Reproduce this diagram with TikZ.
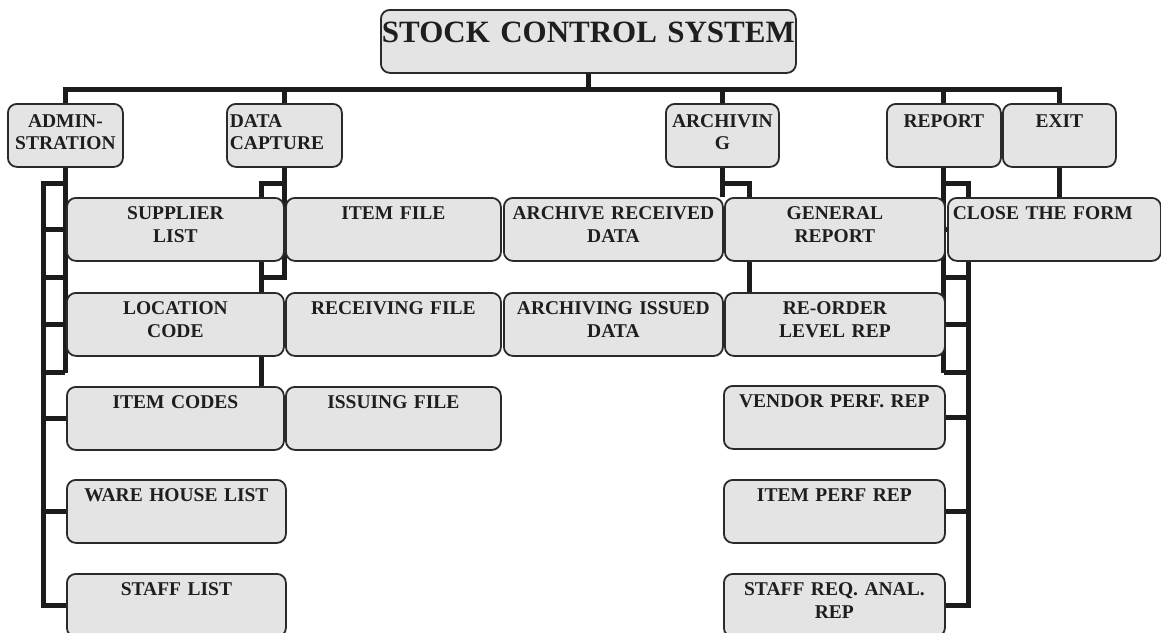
\documentclass[tikz,border=0pt]{standalone}
\usepackage{fontspec}
\setmainfont{Liberation Serif}
\usetikzlibrary{calc}
\definecolor{boxfill}{HTML}{E4E4E4}
\definecolor{boxline}{HTML}{2A2A2A}
\definecolor{lineclr}{HTML}{1C1C1C}
\definecolor{txt}{HTML}{1E1E1E}
\pgfdeclarelayer{bg}
\pgfsetlayers{bg,main}
\begin{document}
\begin{tikzpicture}[x=1pt,y=-1pt,
  box/.style={draw=boxline, fill=boxfill, line width=1.8pt, rounded corners=9pt,
    inner xsep=3pt, inner ysep=0pt, anchor=north west, align=center, text=txt},
  rowbox/.style={box, text height=22pt, text depth=41pt,
    font=\bfseries\fontsize{19.5pt}{23pt}\selectfont},
  topbox/.style={box, text height=24pt, text depth=39pt,
    font=\bfseries\fontsize{19.5pt}{22pt}\selectfont},
  rootbox/.style={box, inner xsep=0pt, text height=33pt, text depth=30pt,
    font=\bfseries\fontsize{31pt}{36pt}\selectfont},
  conn/.style={draw=lineclr, line width=5pt}]
\useasboundingbox (0,0) rectangle (1161,632);

% root
\node[rootbox, text width=415pt] (root) at (380,9) {STOCK CONTROL SYSTEM};

% level 1
\node[topbox, text width=109pt] (adm) at (7,103) {ADMIN-\\STRATION};
\node[topbox, text width=109pt, align=left] (dc) at (226,103) {DATA\\CAPTURE};
\node[topbox, text width=107pt] (arc) at (665,103) {ARCHIVIN\\G};
\node[topbox, text width=108pt] (rep) at (886,103) {REPORT};
\node[topbox, text width=107pt] (ext) at (1002,103) {EXIT};

% column A (administration)
\node[rowbox, text width=211pt] (a1) at (66,197) {SUPPLIER\\LIST};
\node[rowbox, text width=211pt] (a2) at (66,292) {LOCATION\\CODE};
\node[rowbox, text width=211pt] (a3) at (66,386) {ITEM CODES};
\node[rowbox, text width=213pt] (a4) at (66,479) {WARE HOUSE LIST};
\node[rowbox, text width=213pt] (a5) at (66,573) {STAFF LIST};

% column B (data capture)
\node[rowbox, text width=209pt] (d1) at (285,197) {ITEM FILE};
\node[rowbox, text width=209pt] (d2) at (285,292) {RECEIVING FILE};
\node[rowbox, text width=209pt] (d3) at (285,386) {ISSUING FILE};

% column C (archiving)
\node[rowbox, text width=213pt] (c1) at (503,197) {ARCHIVE RECEIVED\\DATA};
\node[rowbox, text width=213pt] (c2) at (503,292) {ARCHIVING ISSUED\\DATA};

% column D (report)
\node[rowbox, text width=214pt] (r1) at (724,197) {GENERAL\\REPORT};
\node[rowbox, text width=214pt] (r2) at (724,292) {RE-ORDER\\LEVEL REP};
\node[rowbox, text width=215pt] (r3) at (723,385) {VENDOR PERF. REP};
\node[rowbox, text width=215pt] (r4) at (723,479) {ITEM PERF REP};
\node[rowbox, text width=215pt] (r5) at (723,573) {STAFF REQ. ANAL.\\REP};

% column E (exit)
\node[rowbox, text width=203pt, inner xsep=5pt, align=left] (e1) at (947,197) {CLOSE THE FORM};

\begin{pgfonlayer}{bg}
\fill[white] (0,0) rectangle (1161,632);
% bus
\coordinate (bus) at ($(root.south)+(0,16)$);
\draw[conn] (root.south) -- (bus);
\draw[conn] (adm.north) |- (bus) -| (ext.north);
\draw[conn] (dc.north) -- (dc.north |- bus);
\draw[conn] (arc.north) -- (arc.north |- bus);
\draw[conn] (rep.north) -- (rep.north |- bus);

% administration
\coordinate (aL) at ($(adm.south)+(-22,16)$);
\draw[conn] (adm.south) |- (aL) -- (aL |- a5.west) -- (a5.west);
\draw[conn] (adm.south) -- ($(adm.south |- a2.south)+(0,16)$);
\foreach \n in {a1,a2,a3,a4} \draw[conn] (aL |- \n.west) -- (\n.west);
\draw[conn] ($(aL |- a1.south)+(0,16)$) -- ($(adm.south |- a1.south)+(0,16)$);
\draw[conn] ($(aL |- a2.south)+(0,16)$) -- ($(adm.south |- a2.south)+(0,16)$);

% data capture
\coordinate (dL) at ($(dc.south)+(-23,16)$);
\draw[conn] (dc.south) |- (dL) -- (dL |- d3.west) -- (d3.west);
\draw[conn] (dL |- d1.west) -- (d1.west);
\draw[conn] (dL |- d2.west) -- (d2.west);
\draw[conn] (dc.south) -- ($(dc.south |- d1.south)+(0,16)$) -- ($(dL |- d1.south)+(0,16)$);

% archiving
\coordinate (cR) at ($(arc.south)+(27,16)$);
\draw[conn] (arc.south) -- (arc.south |- c1.north);
\draw[conn] (arc.south) |- (cR) -- (cR |- c2.east) -- (c2.east);
\draw[conn] (cR |- c1.east) -- (c1.east);

% report
\coordinate (rR) at ($(rep.south)+(25,16)$);
\draw[conn] (rep.south) |- (rR) -- (rR |- r5.east) -- (r5.east);
\foreach \n in {r1,r2,r3,r4} \draw[conn] (rR |- \n.east) -- (\n.east);
\draw[conn] (rep.south) -- ($(rep.south |- r2.south)+(0,16)$);
\draw[conn] ($(rep.south |- r1.south)+(0,16)$) -- ($(rR |- r1.south)+(0,16)$);
\draw[conn] ($(rep.south |- r2.south)+(0,16)$) -- ($(rR |- r2.south)+(0,16)$);

% exit
\draw[conn] (ext.south) -- (ext.south |- e1.north);
\end{pgfonlayer}
\end{tikzpicture}
\end{document}
